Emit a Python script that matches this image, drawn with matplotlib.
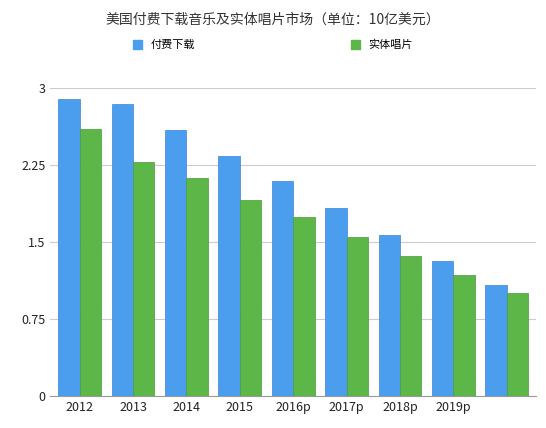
import matplotlib
matplotlib.use("Agg")
import matplotlib.pyplot as plt
import numpy as np
from matplotlib.patches import Patch

plt.rcParams['font.family'] = ['Noto Sans CJK SC', 'DejaVu Sans']

categories = ["2012", "2013", "2014", "2015", "2016p", "2017p", "2018p", "2019p", ""]
download = [2.89, 2.84, 2.59, 2.34, 2.09, 1.83, 1.57, 1.31, 1.08]
physical = [2.60, 2.28, 2.12, 1.91, 1.74, 1.55, 1.36, 1.18, 1.00]
yticks = [0, 0.75, 1.5, 2.25, 3]
ytick_labels = ["0", "0.75", "1.5", "2.25", "3"]

fig = plt.figure(figsize=(5.46, 4.28), dpi=100)
ax = fig.add_axes([0.092, 0.075, 0.89, 0.72])
x = np.arange(len(categories))
w = 0.4
ax.bar(x - w/2, download, w, color="#4b9ded", edgecolor="#3a84d6", linewidth=0.5, zorder=3)
ax.bar(x + w/2, physical, w, color="#5cb648", edgecolor="#4a9c3a", linewidth=0.5, zorder=3)
ax.set_xlim(-0.55, len(categories) - 0.45)
ax.set_ylim(0, 3)
ax.set_yticks(yticks)
ax.set_yticklabels(ytick_labels)
ax.set_xticks(x)
ax.set_xticklabels(categories)
ax.tick_params(length=0, labelsize=9, colors="#222222")
ax.grid(axis="y", color="#cccccc", linewidth=0.8, zorder=0)
for s in ["top", "right", "left"]:
    ax.spines[s].set_visible(False)
ax.spines["bottom"].set_color("#999999")

fig.text(0.5, 0.955, "美国付费下载音乐及实体唱片市场（单位：10亿美元）", ha="center", va="center", fontsize=10, color="#333333")
fig.legend(handles=[Patch(color="#4b9ded", label="付费下载"), Patch(color="#5cb648", label="实体唱片")],
           loc="center", bbox_to_anchor=(0.5, 0.895), ncol=2, frameon=False, fontsize=8,
           handlelength=0.8, handleheight=0.8, columnspacing=14)
fig.savefig("out.png", dpi=100)
